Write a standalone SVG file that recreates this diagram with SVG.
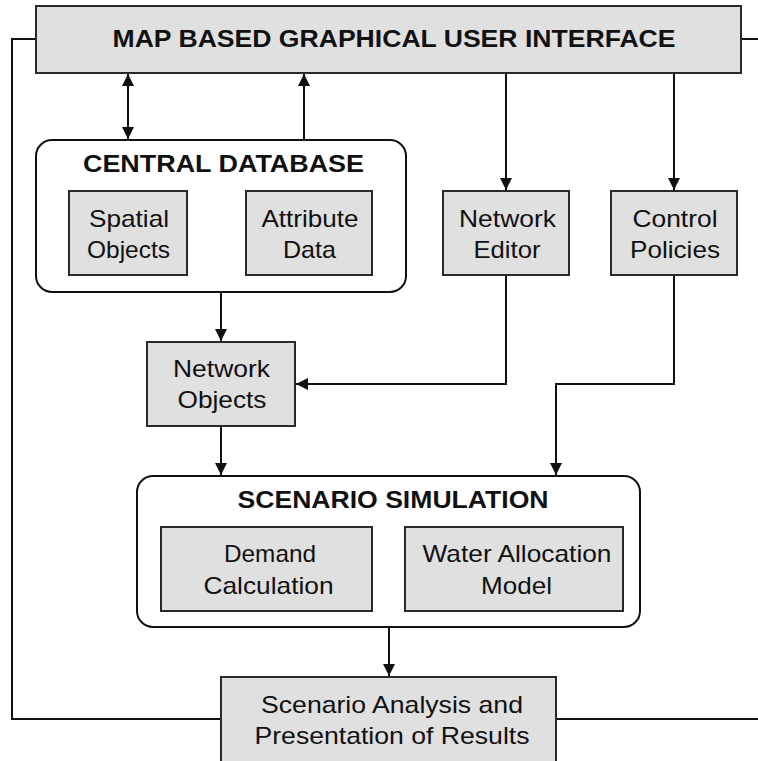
<svg xmlns="http://www.w3.org/2000/svg" width="758" height="761" viewBox="0 0 758 761">
<style>
.box{fill:#e0e0e0;stroke:#2a2a2a;stroke-width:2}
.grp{fill:#fff;stroke:#111;stroke-width:2}
.t{font-family:"Liberation Sans",Arial,sans-serif;font-size:24px;fill:#111;text-anchor:middle}
.b{font-weight:bold;font-size:23.5px}
.c{fill:none;stroke:#111;stroke-width:2}
</style>
<defs>
<marker id="ah" viewBox="0 0 12 12" refX="12" refY="6" markerWidth="12" markerHeight="12" markerUnits="userSpaceOnUse" orient="auto-start-reverse">
<path d="M0,0 L12,6 L0,12 z" fill="#111"/>
</marker>
</defs>
<g id="connectors">
<path class="c" d="M128,74 V139" marker-start="url(#ah)" marker-end="url(#ah)"/>
<path class="c" d="M304,140 V74" marker-end="url(#ah)"/>
<path class="c" d="M506,73 V190" marker-end="url(#ah)"/>
<path class="c" d="M674,73 V190" marker-end="url(#ah)"/>
<path class="c" d="M221,292 V341" marker-end="url(#ah)"/>
<path class="c" d="M506,275 V384 H296" marker-end="url(#ah)"/>
<path class="c" d="M674,275 V384 H556 V475" marker-end="url(#ah)"/>
<path class="c" d="M221,426 V475" marker-end="url(#ah)"/>
<path class="c" d="M389,627 V676" marker-end="url(#ah)"/>
<path class="c" d="M36,39 H12 V719 H221"/>
<path class="c" d="M741,39 H758"/>
<path class="c" d="M556,719 H758"/>
</g>
<g id="gui">
<rect class="box" x="36" y="6" width="705" height="67"/>
<text class="t b" x="394" y="47" textLength="563" lengthAdjust="spacingAndGlyphs">MAP BASED GRAPHICAL USER INTERFACE</text>
</g>
<g id="central-database">
<rect class="grp" x="36" y="140" width="370" height="152" rx="16"/>
<text class="t b" x="223.5" y="171.5" textLength="281" lengthAdjust="spacingAndGlyphs">CENTRAL DATABASE</text>
</g>
<g id="spatial-objects">
<rect class="box" x="69" y="191" width="118" height="84"/>
<text class="t" x="129" y="227" textLength="80" lengthAdjust="spacingAndGlyphs">Spatial</text>
<text class="t" x="128.5" y="258" textLength="83" lengthAdjust="spacingAndGlyphs">Objects</text>
</g>
<g id="attribute-data">
<rect class="box" x="246" y="191" width="126" height="84"/>
<text class="t" x="310" y="227" textLength="97" lengthAdjust="spacingAndGlyphs">Attribute</text>
<text class="t" x="309.5" y="258" textLength="53" lengthAdjust="spacingAndGlyphs">Data</text>
</g>
<g id="network-editor">
<rect class="box" x="443" y="191" width="126" height="84"/>
<text class="t" x="507.5" y="227" textLength="97" lengthAdjust="spacingAndGlyphs">Network</text>
<text class="t" x="507" y="258" textLength="67" lengthAdjust="spacingAndGlyphs">Editor</text>
</g>
<g id="control-policies">
<rect class="box" x="611" y="191" width="126" height="84"/>
<text class="t" x="675" y="227" textLength="85" lengthAdjust="spacingAndGlyphs">Control</text>
<text class="t" x="675" y="258" textLength="90" lengthAdjust="spacingAndGlyphs">Policies</text>
</g>
<g id="network-objects">
<rect class="box" x="147" y="342" width="148" height="84"/>
<text class="t" x="221.5" y="377" textLength="97" lengthAdjust="spacingAndGlyphs">Network</text>
<text class="t" x="222" y="408" textLength="89" lengthAdjust="spacingAndGlyphs">Objects</text>
</g>
<g id="scenario-simulation">
<rect class="grp" x="137" y="476" width="503" height="151" rx="16"/>
<text class="t b" x="393" y="508" textLength="311" lengthAdjust="spacingAndGlyphs">SCENARIO SIMULATION</text>
</g>
<g id="demand-calculation">
<rect class="box" x="161" y="527" width="211" height="84"/>
<text class="t" x="270" y="562" textLength="92" lengthAdjust="spacingAndGlyphs">Demand</text>
<text class="t" x="268.5" y="594" textLength="130" lengthAdjust="spacingAndGlyphs">Calculation</text>
</g>
<g id="water-allocation-model">
<rect class="box" x="405" y="527" width="218" height="84"/>
<text class="t" x="517" y="562" textLength="189" lengthAdjust="spacingAndGlyphs">Water Allocation</text>
<text class="t" x="516.5" y="594" textLength="71" lengthAdjust="spacingAndGlyphs">Model</text>
</g>
<g id="scenario-analysis">
<rect class="box" x="221" y="677" width="335" height="90"/>
<text class="t" x="392" y="713" textLength="262" lengthAdjust="spacingAndGlyphs">Scenario Analysis and</text>
<text class="t" x="392" y="744" textLength="275" lengthAdjust="spacingAndGlyphs">Presentation of Results</text>
</g>
</svg>
